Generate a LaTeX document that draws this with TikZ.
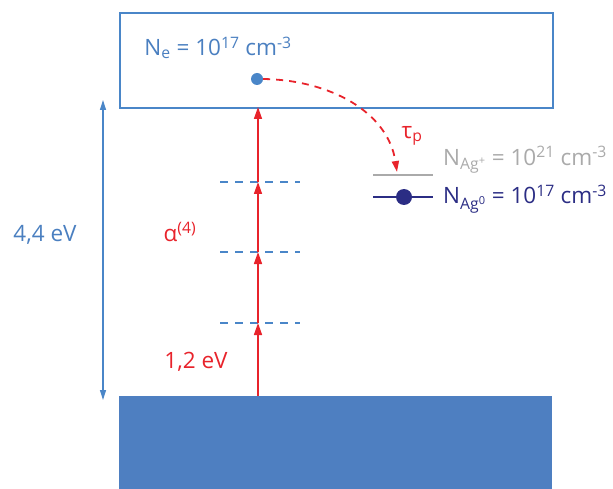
\documentclass[tikz,border=0pt]{standalone}
\usepackage{fontspec}
\setmainfont{Open Sans}
\usetikzlibrary{arrows.meta}
\definecolor{cblue}{HTML}{4A86C8}
\definecolor{fblue}{HTML}{4E7FC1}
\definecolor{tblue}{HTML}{4A7FC0}
\definecolor{cred}{HTML}{E8232B}
\definecolor{cgray}{HTML}{AAAAAA}
\definecolor{cnavy}{HTML}{2B2D84}
\tikzset{
  lbl/.style={inner sep=0pt, font=\fontsize{22.5bp}{25bp}\selectfont},
  redarrow/.style={draw=cred, line width=1.5bp, -{Triangle[length=12bp,width=8bp]}},
  levelline/.style={draw=cblue, line width=1.6bp, dash pattern=on 8bp off 7bp},
}
\newcommand{\sbs}[1]{\textsubscript{#1}}
\newcommand{\sps}[1]{\textsuperscript{#1}}
\begin{document}
\begin{tikzpicture}[x=1bp,y=-1bp]
\useasboundingbox (0,0) rectangle (613,489);
% bands
\node[draw=cblue, line width=1.8bp, minimum width=433bp, minimum height=95bp, inner sep=0pt, anchor=north west] (cb) at (119,12) {};
\node[fill=fblue, minimum width=433bp, minimum height=93bp, inner sep=0pt, anchor=north west] (vb) at (119,396) {};
% gap arrow
\coordinate (gtop) at (103,100);
\coordinate (gbot) at (103,400);
\draw[draw=cblue, line width=1.3bp, {Triangle[length=10bp,width=6bp]}-{Triangle[length=10bp,width=6bp]}] (gtop) -- (gbot);
\node[lbl, text=tblue] (gap) at (45,235) {4,4 eV};
% virtual levels
\coordinate (l1a) at (220,323); \coordinate (l1b) at (300,323);
\coordinate (l2a) at (220,252); \coordinate (l2b) at (300,252);
\coordinate (l3a) at (220,182); \coordinate (l3b) at (300,182);
\draw[levelline] (l1a) -- (l1b);
\draw[levelline] (l2a) -- (l2b);
\draw[levelline] (l3a) -- (l3b);
% photon arrows
\coordinate (p0) at (258,396);
\coordinate (p1) at (258,323);
\coordinate (p2) at (258,252);
\coordinate (p3) at (258,182);
\coordinate (p4) at (258,107);
\draw[redarrow] (p0) -- (p1);
\draw[redarrow] (p1) -- (p2);
\draw[redarrow] (p2) -- (p3);
\draw[redarrow] (p3) -- (p4);
\node[lbl, text=cred] (alpha) at (180,232) {α\sps{(4)}};
\node[lbl, text=cred] (hv) at (196,362) {1,2 eV};
% electron
\node[circle, fill=cblue, minimum size=12bp, inner sep=0pt] (el) at (257,79) {};
\node[lbl, text=tblue] (ne) at (218,48) {N\sbs{e} = 10\sps{17} cm\sps{-3}};
% trapping
\coordinate (trap) at (397,172);
\draw[draw=cred, line width=1.8bp, dash pattern=on 7bp off 6bp, -{Triangle[length=11bp,width=7bp]}] (el.east) .. controls (330,80) and (388,112) .. (trap);
\node[lbl, text=cred] (tau) at (412,136) {τ\sbs{p}};
% Ag levels
\coordinate (ag1a) at (373,175); \coordinate (ag1b) at (433,175);
\coordinate (ag2a) at (373,197); \coordinate (ag2b) at (433,197);
\draw[draw=cgray, line width=1.5bp] (ag1a) -- (ag1b);
\draw[draw=cnavy, line width=1.5bp] (ag2a) -- (ag2b);
\node[circle, fill=cnavy, minimum size=16bp, inner sep=0pt] (ag0) at (404,197) {};
\node[lbl, text=cgray, anchor=west] (agp) at (443,160) {N\sbs{Ag\sps{+}} = 10\sps{21} cm\sps{-3}};
\node[lbl, text=cnavy, anchor=west] (agz) at (443,199) {N\sbs{Ag\sps{0}} = 10\sps{17} cm\sps{-3}};
\end{tikzpicture}
\end{document}
